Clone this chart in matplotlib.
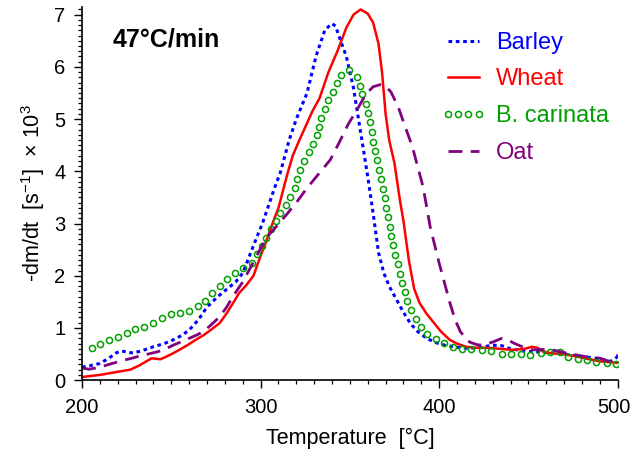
import matplotlib
matplotlib.use("Agg")
import matplotlib.pyplot as plt
from matplotlib.ticker import MultipleLocator
from matplotlib.transforms import ScaledTranslation

plt.rcParams['font.family'] = ['Liberation Sans', 'DejaVu Sans']
plt.rcParams['mathtext.fontset'] = 'custom'
plt.rcParams['mathtext.rm'] = 'Liberation Sans'
plt.rcParams['mathtext.it'] = 'Liberation Sans:italic'

# Barley
barley_t = [200, 205, 210, 215, 219, 222, 226, 229, 235, 240, 246, 251, 256, 260, 265, 270,
            276, 281, 286, 290, 294, 298, 301, 304, 308, 311, 316, 320, 326, 331, 336, 340,
            342, 344, 348, 352, 356, 360, 363, 366, 369, 372, 376, 380, 384, 388, 393, 398,
            403, 410, 415, 422, 430, 435, 440, 449, 455, 463, 470, 480, 490, 496, 500]
barley_y = [0.25, 0.28, 0.32, 0.42, 0.52, 0.56, 0.53, 0.52, 0.58, 0.64, 0.70, 0.77, 0.86, 0.96, 1.15, 1.40,
            1.60, 1.74, 1.88, 2.05, 2.40, 2.75, 3.00, 3.30, 3.70, 3.97, 4.60, 5.00, 5.50, 6.20, 6.71, 6.83,
            6.78, 6.58, 6.20, 5.60, 4.75, 3.90, 3.20, 2.45, 2.05, 1.80, 1.55, 1.30, 1.08, 0.93, 0.80, 0.72,
            0.67, 0.63, 0.61, 0.62, 0.67, 0.66, 0.60, 0.55, 0.54, 0.52, 0.50, 0.45, 0.41, 0.36, 0.45]

# Wheat
wheat_t = [200, 205, 210, 215, 220, 227, 232, 236, 239, 241, 244, 249, 254, 259, 264, 268, 272, 277,
           281, 285, 288, 292, 296, 300, 303, 307, 310, 315, 318, 322, 329, 333, 338, 343, 348, 352,
           356, 360, 363, 366, 368, 370, 372, 375, 378, 380, 383, 386, 389, 393, 397, 401, 406, 410,
           415, 420, 427, 434, 441, 448, 452, 455, 458, 462, 468, 473, 480, 490, 500]
wheat_y = [0.06, 0.08, 0.10, 0.13, 0.16, 0.20, 0.28, 0.36, 0.42, 0.41, 0.40, 0.48, 0.57, 0.67, 0.78, 0.86, 0.96, 1.09,
           1.28, 1.50, 1.67, 1.82, 2.00, 2.38, 2.65, 3.03, 3.30, 3.95, 4.30, 4.62, 5.15, 5.40, 5.90, 6.30, 6.75, 7.00,
           7.10, 7.02, 6.85, 6.45, 5.90, 5.10, 4.60, 4.15, 3.45, 3.05, 2.30, 1.75, 1.48, 1.27, 1.10, 0.93, 0.77, 0.70,
           0.64, 0.62, 0.62, 0.60, 0.58, 0.60, 0.64, 0.62, 0.55, 0.52, 0.50, 0.48, 0.43, 0.36, 0.33]

# B. carinata
carinata_t = [205.6, 210, 215, 220, 225, 229.7, 234.7, 239.7, 244.7, 249.8, 254.8, 260, 265, 268.8, 273, 277,
              281, 285.6, 290, 295, 298, 300.7, 303.3, 305.8, 308.4, 311, 314, 316.7, 319, 320.5, 321.8, 324.5,
              327.3, 329.5, 331.5, 332.5, 334, 336, 338, 340.5, 342.7, 345, 349.4, 354, 355.6, 357, 359, 360,
              361.3, 362.2, 363, 364.3, 365.4, 366.3, 367.2, 368.4, 369.5, 370.5, 371.4, 372.3, 373.3, 374.2,
              375.5, 376.8, 378, 379.3, 380.7, 382.2, 384.5, 387, 389.7, 393, 398, 402.6, 407.6, 413, 418, 424,
              429, 435, 440, 445.6, 451, 457, 462, 467.5, 472, 477.6, 482.6, 488, 493.8, 499]
carinata_y = [0.62, 0.69, 0.77, 0.83, 0.90, 0.98, 1.02, 1.09, 1.19, 1.27, 1.28, 1.33, 1.42, 1.51, 1.67, 1.80,
              1.93, 2.06, 2.14, 2.25, 2.42, 2.56, 2.73, 2.89, 3.05, 3.20, 3.36, 3.51, 3.68, 3.85, 4.03, 4.19,
              4.37, 4.53, 4.70, 4.85, 5.03, 5.20, 5.37, 5.52, 5.70, 5.85, 5.95, 5.81, 5.64, 5.48, 5.29, 5.12,
              4.95, 4.76, 4.56, 4.39, 4.22, 4.03, 3.85, 3.66, 3.49, 3.30, 3.13, 2.93, 2.76, 2.59,
              2.40, 2.22, 2.04, 1.86, 1.69, 1.52, 1.34, 1.17, 1.02, 0.88, 0.79, 0.71, 0.64, 0.60, 0.59, 0.58,
              0.56, 0.50, 0.50, 0.50, 0.48, 0.52, 0.54, 0.54, 0.45, 0.40, 0.38, 0.35, 0.32, 0.30]

# Oat
oat_t = [200, 204, 209, 214, 219, 223, 228, 232, 237, 242, 247, 251, 256, 260, 264, 268, 272, 277,
         281, 285, 290, 295, 301, 305, 309, 314, 320, 326, 333, 339, 344, 349, 354, 359, 363, 367,
         370, 373, 377, 381, 385, 391, 395, 400, 406, 409, 412, 417, 421, 424, 430, 435, 439, 443,
         448, 452, 462, 471, 482, 490, 495, 500]
oat_y = [0.23, 0.21, 0.24, 0.29, 0.34, 0.38, 0.42, 0.46, 0.50, 0.54, 0.60, 0.67, 0.74, 0.80, 0.86, 0.93, 1.05, 1.21,
         1.40, 1.63, 1.88, 2.20, 2.59, 2.80, 2.95, 3.15, 3.40, 3.68, 3.97, 4.22, 4.55, 4.90, 5.18, 5.48, 5.62, 5.66,
         5.63, 5.52, 5.24, 4.85, 4.47, 3.70, 2.93, 2.24, 1.48, 1.15, 0.92, 0.73, 0.68, 0.67, 0.73, 0.80, 0.76, 0.69,
         0.62, 0.58, 0.59, 0.52, 0.45, 0.42, 0.36, 0.48]

x_ticks = [200, 300, 400, 500]

fig = plt.figure(figsize=(6.31, 4.58), dpi=100)
ax = fig.add_axes([0.130, 0.170, 0.849, 0.815])

ax.plot(barley_t, barley_y, color='#0000ff', lw=2.2, dashes=(1.2, 1.2), label='Barley')
ax.plot(wheat_t, wheat_y, color='#ff0000', lw=1.8, label='Wheat')
ax.plot(carinata_t, carinata_y, color='#00a000', ls='none', marker='o', ms=4.4,
        mfc='none', mec='#00a000', mew=1.1, label='B. carinata')
ax.plot(oat_t, oat_y, color='#800080', lw=2.0, dashes=(5, 3), label='Oat')

ax.set_xlim(200, 500)
ax.set_ylim(0, 7.15)
ax.set_xticks(x_ticks)
ax.set_xticklabels([str(t) for t in x_ticks])
ax.xaxis.set_minor_locator(MultipleLocator(10))
ax.yaxis.set_major_locator(MultipleLocator(1))
ax.yaxis.set_minor_locator(MultipleLocator(0.1))
ax.tick_params(which='major', direction='out', length=6, width=1, labelsize=14.5)
ax.tick_params(which='minor', direction='out', length=3, width=0.9)
ax.tick_params(axis='x', pad=7)
ax.tick_params(axis='y', pad=6)
ax.spines['top'].set_visible(False)
ax.spines['right'].set_visible(False)
for s in ['left', 'bottom']:
    ax.spines[s].set_linewidth(1.2)

# nudge the last x label so it stays inside the figure
last = ax.get_xticklabels()[-1]
last.set_transform(last.get_transform() + ScaledTranslation(-0.04, 0, fig.dpi_scale_trans))

ax.set_xlabel('Temperature  [°C]', fontsize=15.5, labelpad=8)
ax.set_ylabel('-dm/dt  [s$^{-1}$]  × 10$^{3}$', fontsize=15.5)
ax.yaxis.set_label_coords(-0.066, 0.5)

ax.text(0.058, 0.912, '47°C/min', transform=ax.transAxes, fontsize=18,
        fontweight='bold', va='center', ha='left')

leg = ax.legend(loc='upper left', bbox_to_anchor=(0.63, 0.99), frameon=False,
                fontsize=17, handlelength=1.9, handletextpad=0.45, labelspacing=0.62,
                numpoints=4, labelcolor='linecolor')

fig.savefig('out.png', dpi=100)
